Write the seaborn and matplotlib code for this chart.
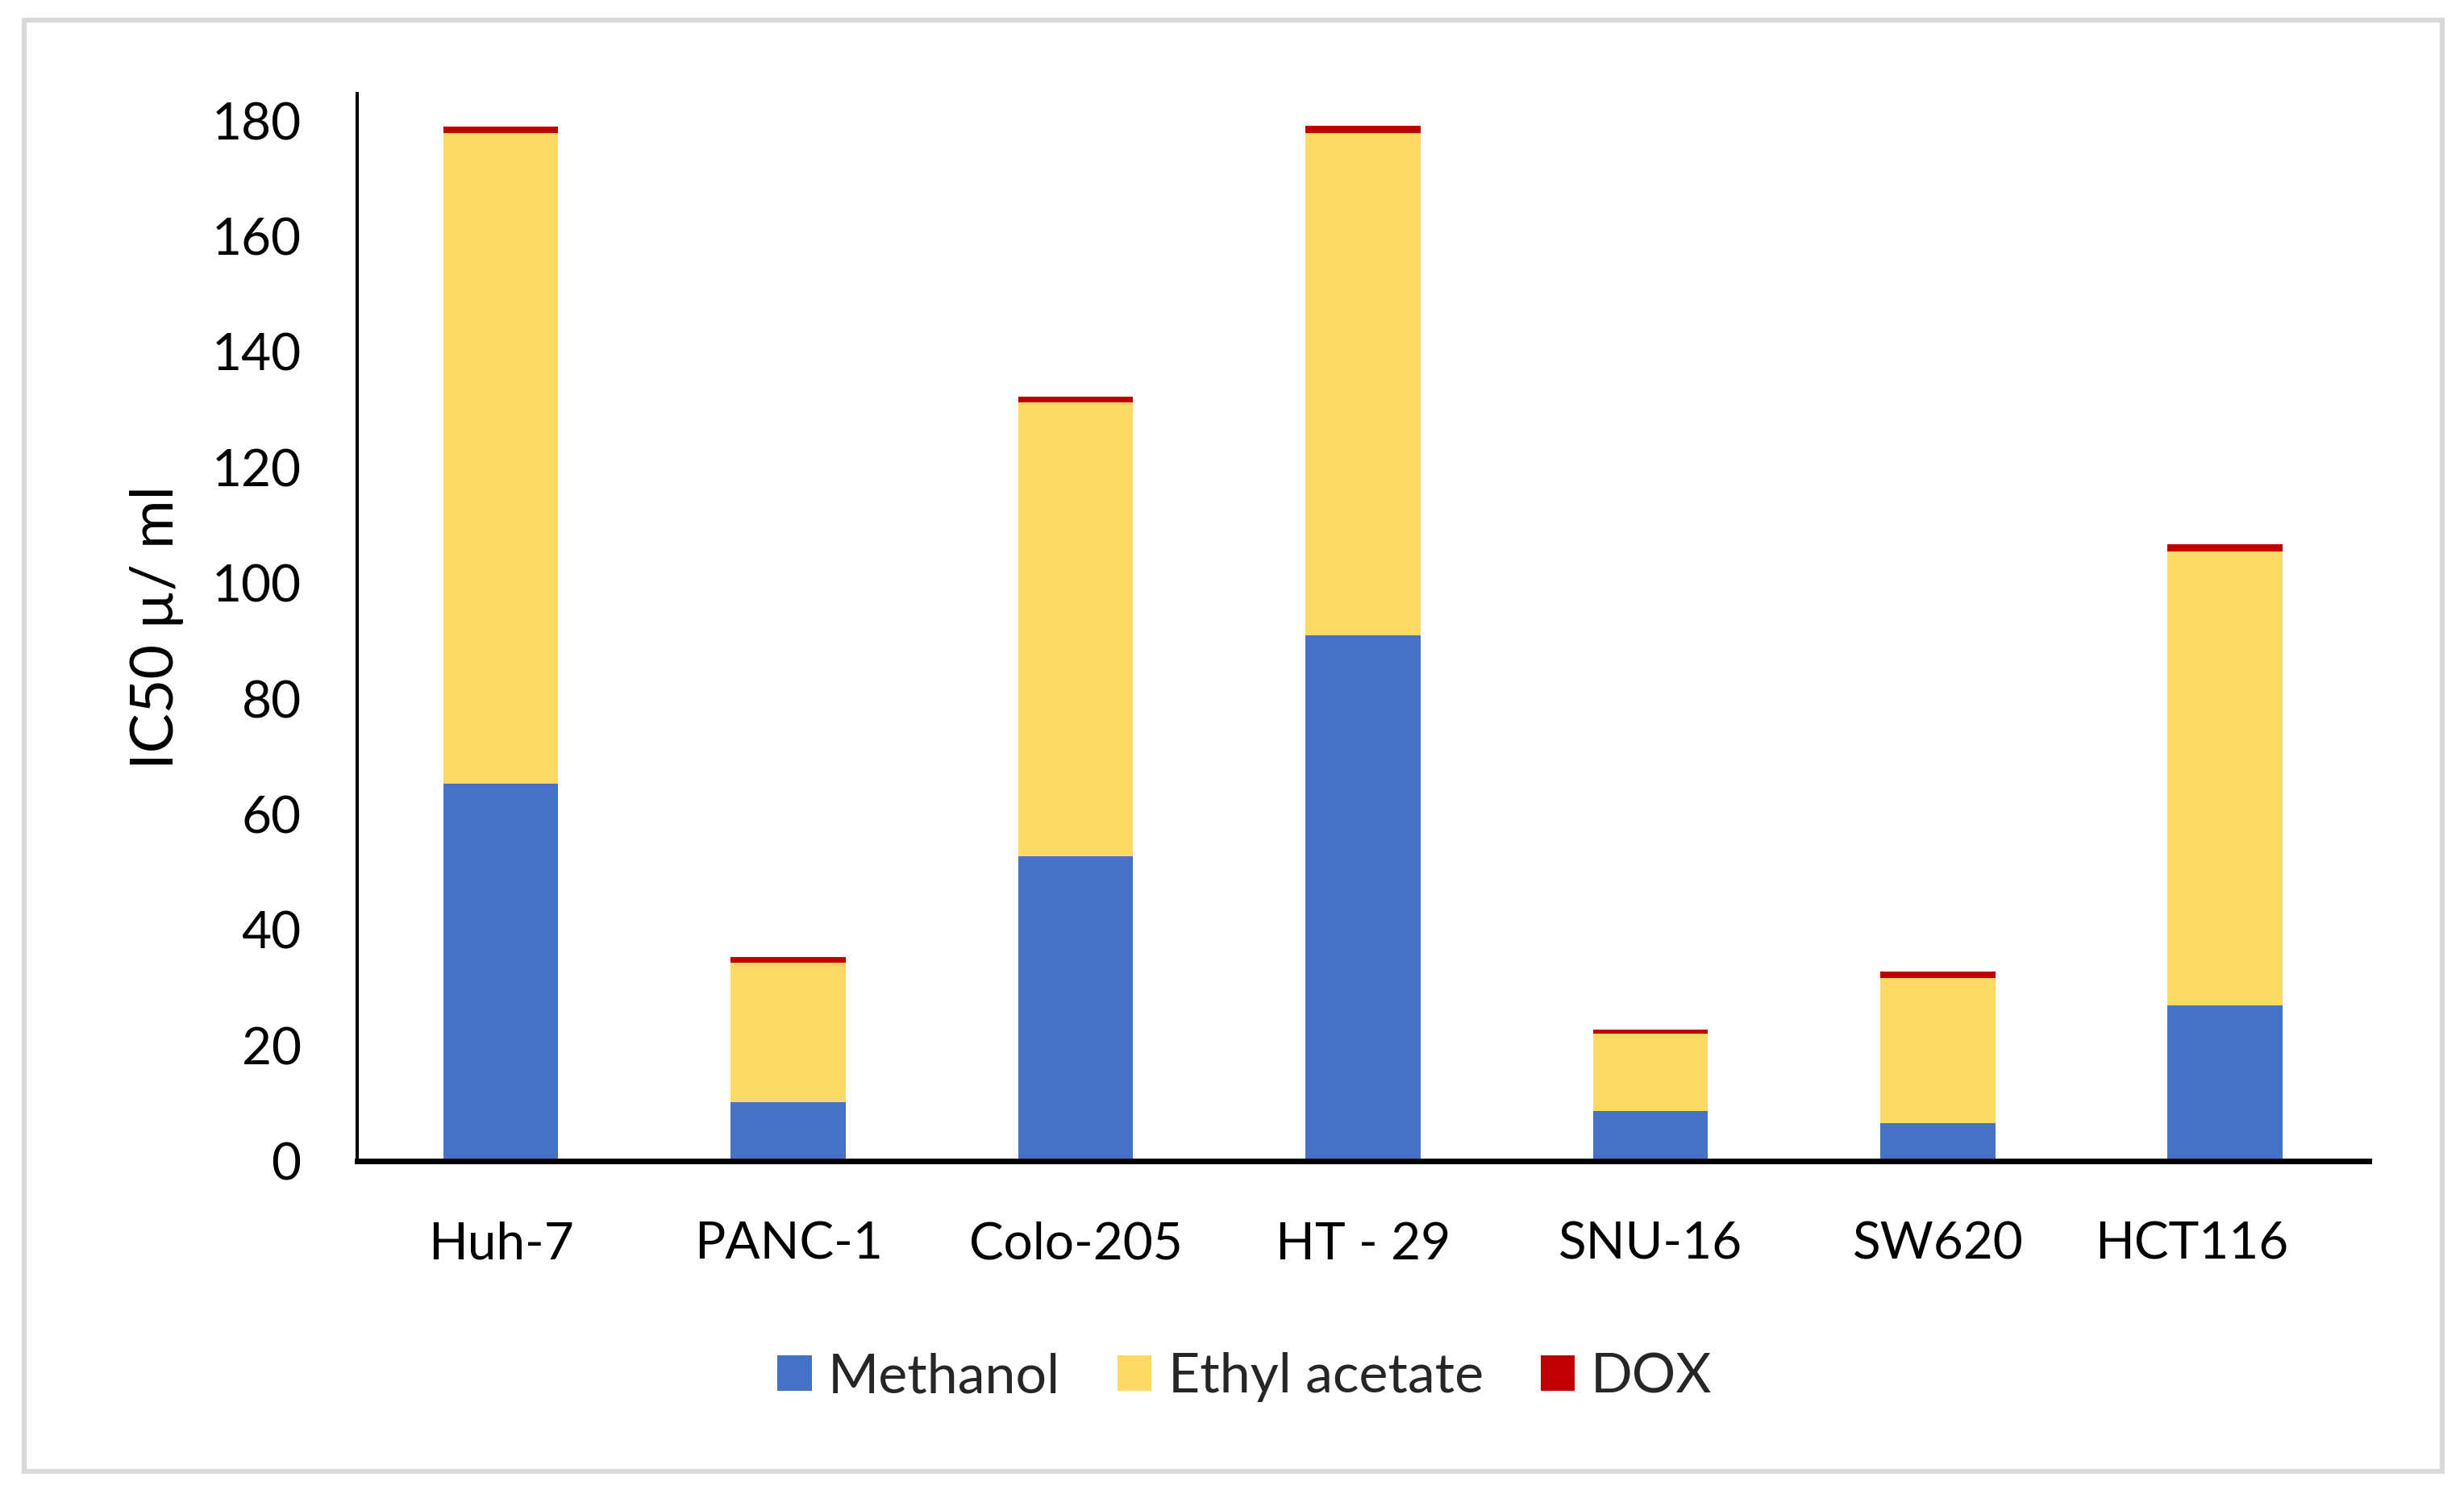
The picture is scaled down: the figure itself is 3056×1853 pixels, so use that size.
import matplotlib
matplotlib.use("Agg")
import matplotlib.pyplot as plt
import matplotlib.transforms as mtransforms
import seaborn as sns
import pandas as pd
from matplotlib.patches import Rectangle, Patch

# ---- data ----
cell_lines = ["Huh-7", "PANC-1", "Colo-205", "HT - 29", "SNU-16", "SW620", "HCT116"]
methanol = [65.3, 10.2, 52.7, 91.0, 8.6, 6.6, 26.9]
ethyl_acetate = [112.6, 24.1, 78.6, 86.9, 13.4, 25.1, 78.6]
dox = [1.1, 1.0, 1.0, 1.2, 0.7, 1.1, 1.2]
series_names = ["Methanol", "Ethyl acetate", "DOX"]
y_ticks = [0, 20, 40, 60, 80, 100, 120, 140, 160, 180]
y_label = "IC50 \u00b5/ ml"

colors = ["#4472C4", "#FFD966", "#C00000"]

sns.set_theme(style="white")
plt.rcParams["font.family"] = ["Lato", "DejaVu Sans"]

df = pd.DataFrame({
    "cell": cell_lines,
    "Methanol": methanol,
    "Ethyl acetate": ethyl_acetate,
    "DOX": dox,
})
# cumulative tops for stacking (drawn back to front)
df["top_meth"] = df["Methanol"]
df["top_ethyl"] = df["Methanol"] + df["Ethyl acetate"]
df["top_dox"] = df["top_ethyl"] + df["DOX"]

W, H, DPI = 3056, 1853, 200
fig = plt.figure(figsize=(W / DPI, H / DPI), dpi=DPI)
ax = fig.add_axes([443 / W, 1 - 1440 / H, (2938 - 443) / W, (1440 - 116) / H])

for col, c in zip(["top_dox", "top_ethyl", "top_meth"], colors[::-1]):
    sns.barplot(data=df, x="cell", y=col, order=cell_lines, color=c,
                saturation=1, width=0.4, linewidth=0, ax=ax, errorbar=None)

ax.set_xlim(-0.5, len(cell_lines) - 0.5)
ax.set_ylim(0, 184.7)
ax.set_yticks(y_ticks)
ax.set_yticklabels([str(t) for t in y_ticks])
ax.set_xlabel("")
ax.set_ylabel(y_label, fontsize=26.5, color="black")
ax.yaxis.label.set_va("bottom")
ax.yaxis.set_label_coords((228 - 443) / (2938 - 443), 0.5)

ax.tick_params(axis="y", length=0, pad=25, labelsize=23, labelcolor="black")
ax.tick_params(axis="x", length=0, pad=27, labelsize=23, labelcolor="black")

# the last category label sits slightly left of its bar in the reference
last = ax.get_xticklabels()[-1]
last.set_transform(last.get_transform() + mtransforms.ScaledTranslation(-42 / DPI, 0, fig.dpi_scale_trans))

for s in ["top", "right"]:
    ax.spines[s].set_visible(False)
ax.spines["left"].set_linewidth(1.45)
ax.spines["left"].set_color("black")
ax.spines["bottom"].set_linewidth(2.5)
ax.spines["bottom"].set_color("black")
ax.spines["left"].set_zorder(3)
ax.spines["bottom"].set_zorder(3)
ax.grid(False)

handles = [Patch(facecolor=c, edgecolor="none", label=n) for c, n in zip(colors, series_names)]
fig.legend(handles=handles, loc="center", bbox_to_anchor=(1544 / W, 1 - 1708 / H),
           ncol=3, frameon=False, fontsize=24.5, handlelength=0.62, handleheight=0.62,
           handletextpad=0.3, columnspacing=1.04, borderaxespad=0)

# chart-area border
fig.patches.append(Rectangle((30 / W, 1 - 1825 / H), (3029 - 30) / W, (1825 - 25) / H,
                             transform=fig.transFigure, fill=False,
                             edgecolor="#D9D9D9", linewidth=2.2))

fig.savefig("out.png", dpi=DPI, facecolor="white")
